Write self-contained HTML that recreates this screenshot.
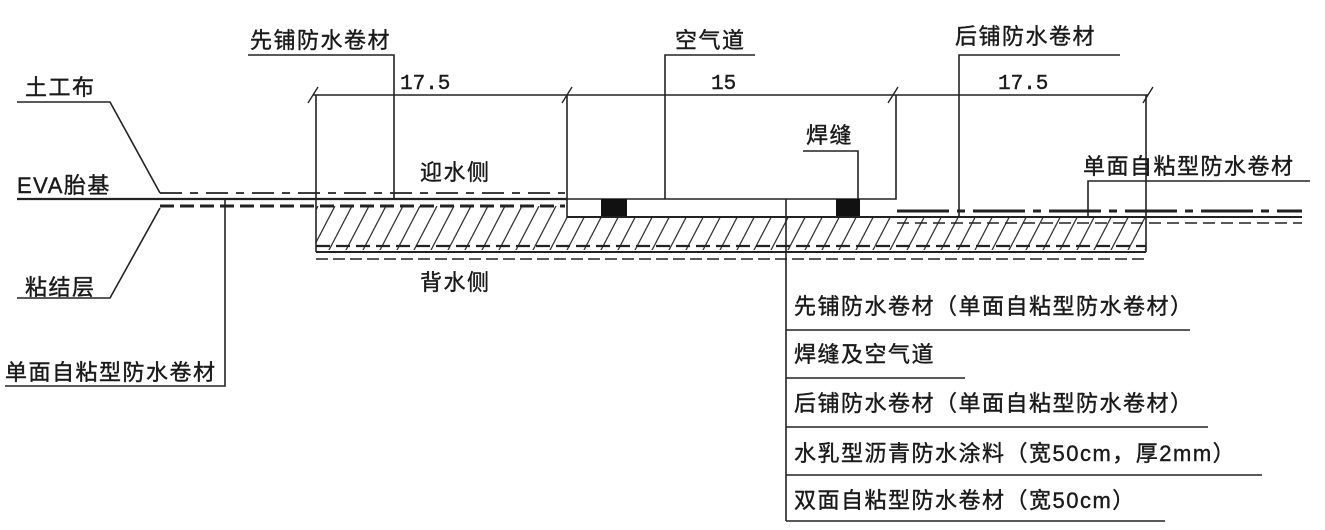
<!DOCTYPE html>
<html><head><meta charset="utf-8"><style>
html,body{margin:0;padding:0;background:#fff;}
svg{display:block;}
text{font-family:"Liberation Sans","Noto Sans CJK SC",sans-serif;font-size:22px;letter-spacing:1.5px;fill:#1a1a1a;stroke:#1a1a1a;stroke-width:0.4;}
.n{font-family:"Liberation Mono","DejaVu Sans Mono",monospace;font-size:21px;letter-spacing:0;}
</style></head><body>
<svg width="1325" height="530" viewBox="0 0 1325 530" xmlns="http://www.w3.org/2000/svg">
<defs>
<pattern id="h" patternUnits="userSpaceOnUse" width="17" height="46" x="0" y="206">
<line x1="-12" y1="46" x2="12" y2="0" stroke="#333" stroke-width="1.3"/>
<line x1="5" y1="46" x2="29" y2="0" stroke="#333" stroke-width="1.3"/>
</pattern>
<clipPath id="c"><polygon points="316,206 567,206 567,217 1146,217 1146,250 316,250"/></clipPath>
</defs>
<g stroke="#222" fill="none" stroke-width="1.6">
<rect x="316" y="200" width="830" height="52" fill="url(#h)" stroke="none" clip-path="url(#c)"/>
<polyline points="17,102 110,102 160,193"/>
<polyline points="160,208 110,298 17,298"/>
<polyline points="5,386 225,386 225,199"/>
<line x1="160" y1="193" x2="565" y2="193" stroke-dasharray="22,8,8,8" stroke-width="1.8"/>
<line x1="17" y1="199" x2="567" y2="199" stroke-width="2.2"/>
<line x1="160" y1="206" x2="565" y2="206" stroke-dasharray="14,6" stroke-width="3"/>
<line x1="313" y1="95" x2="1148" y2="95"/>
<g stroke-width="1.4">
<line x1="308" y1="103" x2="318" y2="87"/>
<line x1="562" y1="103" x2="572" y2="87"/>
<line x1="888" y1="103" x2="898" y2="87"/>
<line x1="1143" y1="103" x2="1153" y2="87"/>
</g>
<line x1="316" y1="95" x2="316" y2="252"/>
<line x1="1146" y1="95" x2="1146" y2="252"/>
<polyline points="567,95 567,217 860,217"/>
<polyline points="896,95 896,199 567,199"/>
<rect x="601" y="199" width="26" height="18" fill="#111" stroke="none"/>
<rect x="836" y="199" width="24" height="18" fill="#111" stroke="none"/>
<line x1="567" y1="217" x2="1302" y2="217" stroke-width="2"/>
<line x1="897" y1="211" x2="1302" y2="211" stroke-dasharray="52,8,8,8" stroke-width="3"/>
<line x1="897" y1="223" x2="1302" y2="223" stroke-dasharray="12,6" stroke-width="1.6"/>
<line x1="316" y1="246" x2="1146" y2="246" stroke-dasharray="14,6" stroke-width="2.2"/>
<line x1="316" y1="252" x2="1146" y2="252" stroke-width="2"/>
<line x1="316" y1="259" x2="1146" y2="259" stroke-dasharray="12,5" stroke-width="1.6"/>
<polyline points="248,55 394,55 394,199"/>
<polyline points="755,55 665,55 665,199"/>
<polyline points="1120,55 959,55 959,217"/>
<polyline points="803,151 858,151 858,199"/>
<polyline points="1310,181 1088,181 1088,217"/>
<line x1="786" y1="199" x2="786" y2="521"/>
<line x1="786" y1="330" x2="1190" y2="330"/>
<line x1="786" y1="378" x2="965" y2="378"/>
<line x1="786" y1="427" x2="1208" y2="427"/>
<line x1="786" y1="475" x2="1262" y2="475"/>
<line x1="786" y1="521" x2="1165" y2="521"/>
</g>
<text x="25" y="95">土工布</text>
<text x="17" y="193">EVA胎基</text>
<text x="25" y="295">粘结层</text>
<text x="5" y="380">单面自粘型防水卷材</text>
<text x="250" y="48">先铺防水卷材</text>
<text x="675" y="48">空气道</text>
<text x="955" y="44">后铺防水卷材</text>
<text x="806" y="143">焊缝</text>
<text x="1083" y="174">单面自粘型防水卷材</text>
<text x="420" y="180">迎水侧</text>
<text x="420" y="290">背水侧</text>
<text class="n" x="400" y="89">17.5</text>
<text class="n" x="711" y="89">15</text>
<text class="n" x="998" y="89">17.5</text>
<text x="794" y="314">先铺防水卷材（单面自粘型防水卷材）</text>
<text x="794" y="362">焊缝及空气道</text>
<text x="794" y="411">后铺防水卷材（单面自粘型防水卷材）</text>
<text x="794" y="461">水乳型沥青防水涂料（宽50cm，厚2mm）</text>
<text x="794" y="508">双面自粘型防水卷材（宽50cm）</text>
</svg>
</body></html>
